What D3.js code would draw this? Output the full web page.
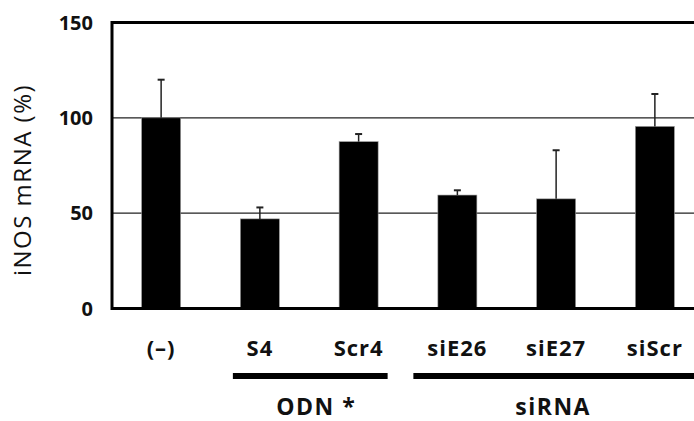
<!DOCTYPE html>
<html>
<head>
<meta charset="utf-8">
<script src="https://cdn.jsdelivr.net/npm/d3@7"></script>
<style>
  body { margin: 0; background: #fff; }
  text { font-family: 'Open Sans', sans-serif; fill: #111; }
</style>
</head>
<body>
<svg id="chart" width="694" height="421"></svg>
<script>
const categories = ['(–)', 'S4', 'Scr4', 'siE26', 'siE27', 'siScr'];
const values = [100, 47, 87.5, 59.5, 57.5, 95.5];
const errors = [20, 6, 4, 2.5, 25.5, 17];
const yTicks = [0, 50, 100, 150];
const groups = [
  { label: 'ODN *', from: 'S4', to: 'Scr4' },
  { label: 'siRNA', from: 'siE26', to: 'siScr' }
];

const margin = { top: 22.5, left: 112, bottom: 308.5, right: 704 };
// how far the group bars reach past the outer bar centres, and label nudge
const groupReach = { 'ODN *': [27, 29, 7], 'siRNA': [44, 60, -3] };

const svg = d3.select('#chart');

const x = d3.scaleBand()
    .domain(categories)
    .range([margin.left, margin.right])
    .paddingInner(0.605)
    .paddingOuter(0.3);

const y = d3.scaleLinear()
    .domain([0, 150])
    .range([margin.bottom, margin.top]);

const cx = d => x(d) + x.bandwidth() / 2;

// gridlines
svg.append('g')
    .attr('class', 'grid')
    .selectAll('line')
    .data(yTicks.filter(t => t > 0 && t < 150))
    .enter()
    .append('line')
        .attr('x1', margin.left)
        .attr('x2', 694)
        .attr('y1', d => y(d))
        .attr('y2', d => y(d))
        .attr('stroke', '#222')
        .attr('stroke-width', 1.3);

// top line
svg.append('line')
    .attr('x1', margin.left)
    .attr('x2', 694)
    .attr('y1', y(150))
    .attr('y2', y(150))
    .attr('stroke', '#000')
    .attr('stroke-width', 3);

// bars
svg.append('g')
    .attr('class', 'bars')
    .selectAll('rect')
    .data(categories)
    .enter()
    .append('rect')
        .attr('x', d => x(d))
        .attr('width', x.bandwidth())
        .attr('y', (d, i) => y(values[i]))
        .attr('height', (d, i) => y(0) - y(values[i]))
        .attr('fill', '#000')
        .attr('stroke', '#999')
        .attr('stroke-width', 0.6);

// error bars
const err = svg.append('g').attr('class', 'errors')
    .selectAll('g')
    .data(categories)
    .enter()
    .append('g');

err.append('line')
    .attr('x1', cx)
    .attr('x2', cx)
    .attr('y1', (d, i) => y(values[i]))
    .attr('y2', (d, i) => y(values[i] + errors[i]))
    .attr('stroke', '#222')
    .attr('stroke-width', 1.5);

err.append('line')
    .attr('x1', d => cx(d) - 3.5)
    .attr('x2', d => cx(d) + 3.5)
    .attr('y1', (d, i) => y(values[i] + errors[i]))
    .attr('y2', (d, i) => y(values[i] + errors[i]))
    .attr('stroke', '#222')
    .attr('stroke-width', 2);

// axes lines
svg.append('line')
    .attr('x1', margin.left)
    .attr('x2', margin.left)
    .attr('y1', y(150) - 1.5)
    .attr('y2', y(0) + 1.5)
    .attr('stroke', '#000')
    .attr('stroke-width', 3);

svg.append('line')
    .attr('x1', margin.left)
    .attr('x2', 694)
    .attr('y1', y(0))
    .attr('y2', y(0))
    .attr('stroke', '#000')
    .attr('stroke-width', 3);

// y tick labels
svg.append('g')
    .attr('class', 'y-labels')
    .selectAll('text')
    .data(yTicks)
    .enter()
    .append('text')
        .attr('x', 93)
        .attr('y', d => y(d))
        .attr('dy', '0.36em')
        .attr('text-anchor', 'end')
        .style('font-size', '20px')
        .style('font-weight', 'bold')
        .text(d => d);

// y title
svg.append('text')
    .attr('transform', 'translate(31,180) rotate(-90)')
    .attr('text-anchor', 'middle')
    .style('font-size', '24px')
    .style('letter-spacing', '1.5px')
    .text('iNOS mRNA (%)');

// category labels
svg.append('g')
    .attr('class', 'x-labels')
    .selectAll('text')
    .data(categories)
    .enter()
    .append('text')
        .attr('x', cx)
        .attr('y', 356)
        .attr('text-anchor', 'middle')
        .style('font-size', '22px')
        .style('font-weight', 'bold')
        .style('letter-spacing', '1px')
        .text(d => d);

// group bars and labels
const grp = svg.append('g').attr('class', 'groups')
    .selectAll('g')
    .data(groups)
    .enter()
    .append('g');

grp.append('line')
    .attr('x1', d => cx(d.from) - groupReach[d.label][0])
    .attr('x2', d => cx(d.to) + groupReach[d.label][1])
    .attr('y1', 376)
    .attr('y2', 376)
    .attr('stroke', '#000')
    .attr('stroke-width', 6);

grp.append('text')
    .attr('x', d => (cx(d.from) + cx(d.to)) / 2 + groupReach[d.label][2])
    .attr('y', 415)
    .attr('text-anchor', 'middle')
    .style('font-size', '23px')
    .style('font-weight', 'bold')
    .style('letter-spacing', '1.5px')
    .text(d => d.label);
</script>
</body>
</html>
